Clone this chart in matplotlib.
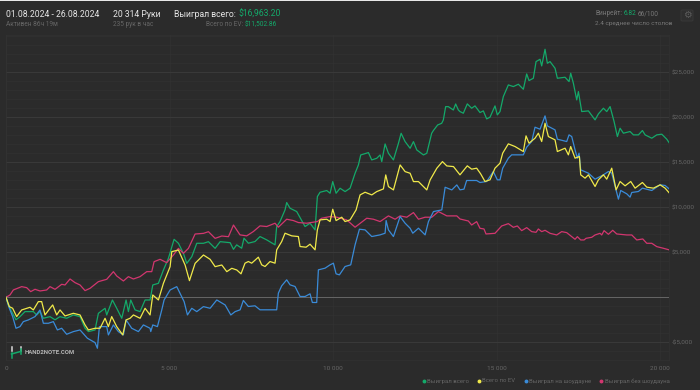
import matplotlib
matplotlib.use("Agg")
import matplotlib.pyplot as plt
from matplotlib.patches import Rectangle, FancyBboxPatch
from matplotlib.lines import Line2D

plt.rcParams['font.family'] = ['Roboto', 'DejaVu Sans']

green_x = [0,71,173,306,428,581,836,938,1040,1142,1346,1500,1650,1856,2060,2264,2417,2520,2723,2825,3030,3080,3254,3386,3540,3672,3743,3815,3947,4100,4253,4406,4488,4660,4814,4967,5140,5273,5426,5528,5681,5834,6038,6190,6395,6548,6854,6956,7054,7207,7278,7411,7615,7768,7972,8227,8278,8380,8533,8584,8686,8890,9145,9298,9451,9522,9604,9808,9910,9992,10094,10216,10369,10522,10675,10777,10848,11083,11185,11338,11440,11491,11593,11695,11848,12001,12083,12205,12358,12460,12562,12766,12868,13017,13068,13200,13323,13374,13445,13527,13680,13751,13833,13883,13985,14107,14240,14342,14495,14597,14699,14801,14954,15025,15107,15209,15362,15515,15668,15821,15923,15994,16127,16209,16331,16382,16484,16555,16637,16790,16861,17096,17218,17269,17351,17453,17504,17606,17810,18014,18116,18269,18371,18473,18595,18697,18779,18881,19085,19187,19340,19462,19544,19748,19901,20054,20207,20289]
green_y = [0,-850,-1590,-2500,-2150,-1590,-1590,-1960,-1590,-2330,-2150,-2500,-2150,-2330,-1960,-2150,-3440,-3810,-3630,-1780,-1220,-1960,-300,-1220,-2330,-300,-1590,-300,-1400,-1590,-300,-300,1370,1550,3030,4330,6440,6000,4880,3770,4510,6000,6000,6180,5440,6180,6070,5330,5825,5455,6565,6010,6195,6750,6380,5825,7860,8415,9710,10525,9895,9525,7860,8230,7490,11190,11670,11860,11560,12855,11560,12115,11745,12115,13780,14705,15815,16075,15260,15445,15815,15075,17035,16000,15260,17110,18220,17295,16555,17295,16370,15815,16000,18220,18516,19145,19330,19700,21180,21180,20810,21476,20810,20635,20450,21486,21005,21264,20524,20709,19821,20006,21264,20265,20635,22300,23595,23410,23669,23114,24816,24076,24335,26185,26444,25704,27554,26000,26185,25445,24335,24446,23965,24890,23780,21930,22855,20635,20709,19710,20376,21005,20635,21190,19525,17860,18785,18230,18415,18045,18045,18526,18045,17675,18045,18119,17564,17120]

ev_x = [0,102,204,326,479,734,836,989,1091,1193,1346,1428,1550,1652,1805,2060,2264,2417,2519,2723,2876,3029,3131,3233,3386,3570,3672,3794,3896,4100,4253,4406,4488,4661,4814,5018,5069,5273,5477,5610,5783,6038,6242,6395,6599,6752,6905,7058,7187,7309,7411,7513,7717,7819,7921,8074,8227,8278,8431,8533,8737,8941,8992,9176,9298,9451,9522,9604,9808,9910,9992,10094,10267,10369,10522,10706,10828,10981,11185,11338,11542,11613,11695,11848,12052,12205,12358,12460,12613,12868,12970,13174,13347,13480,13684,13883,14107,14240,14393,14515,14648,14801,14954,15107,15189,15362,15566,15821,15903,15994,16178,16280,16382,16484,16586,16790,16861,17096,17198,17269,17402,17535,17575,17708,17810,18014,18116,18269,18371,18524,18657,18779,18932,19105,19238,19462,19595,19799,20003,20156,20289]
ev_y = [0,-1036,-1221,-2146,-1406,-1110,-1406,-481,-481,-1961,-1221,-851,-1961,-1406,-2072,-1776,-1961,-3071,-3626,-3441,-3441,-2331,-3256,-2146,-3256,-4181,-2516,-2331,-1961,-2331,-1221,-1961,259,-296,1554,3404,5069,5254,3589,1850,3774,4699,4218,3404,3589,2849,3219,3034,2606,3790,3975,3790,4456,3605,3420,3975,3790,5270,6195,7120,6824,6750,5640,5566,5899,5270,7490,8600,8674,8415,9784,8526,8896,8415,8600,9710,11375,11671,11375,11745,12041,13595,12300,11930,14705,13965,13780,12855,12855,11930,13040,14335,15075,14594,14520,13605,14604,14234,14345,13716,12865,13050,14345,14900,16010,17046,16750,16195,17934,17120,17675,18230,17305,19340,17860,17490,16195,16565,15825,16750,15455,15640,13605,13235,13605,12310,13050,13605,13124,14345,11940,12865,12384,12865,12125,12754,12236,12125,12495,12125,11570]

sd_x = [0,102,204,306,428,530,683,887,1040,1142,1295,1448,1571,1703,1856,2060,2264,2489,2723,2795,2856,3080,3131,3284,3437,3590,3672,3845,4049,4202,4406,4427,4488,4631,4763,4835,5018,5222,5447,5549,5681,5834,6038,6242,6446,6701,6875,7007,7160,7258,7411,7615,7768,8278,8329,8431,8584,8686,8839,8992,9145,9298,9369,9502,9553,9757,9910,10012,10094,10196,10369,10542,10675,10808,10981,11185,11440,11593,11624,11695,11848,12052,12205,12358,12440,12613,12817,12919,13072,13327,13429,13633,13786,13883,14005,14087,14393,14495,14699,14903,15025,15107,15189,15362,15464,15821,15923,16076,16178,16331,16484,16555,16790,16861,17147,17218,17300,17402,17473,17524,17575,17810,18014,18269,18422,18524,18657,18728,18799,18983,19085,19136,19340,19462,19748,20003,20156,20289]
sd_y = [0,-1221,-2146,-3441,-3256,-2701,-2516,-2146,-1406,-2886,-2886,-2701,-3626,-3441,-4107,-3811,-3626,-4551,-5032,-5661,-3256,-3256,-4181,-3071,-3811,-4181,-2516,-3441,-3811,-3071,-3441,-3811,-3071,-3256,-1406,-296,814,1184,-481,-1961,-1221,-1591,-1036,-1221,-296,-851,-1961,-1591,-1390,-354,-1020,-946,-1390,-1390,460,1274,1940,1385,1200,90,90,386,-576,-576,3050,3235,3605,3790,2606,2495,3420,3605,5825,7564,7490,6750,6935,7120,8526,7490,6750,8970,8230,7675,7120,7675,6935,8415,9525,9710,12226,11930,12485,11940,12014,12976,12976,12754,12865,13975,13050,13050,14345,15455,15825,15825,16676,17305,18896,18674,20154,19044,18600,17564,17305,18045,17860,16380,15455,16010,14160,13790,13124,13605,13975,13790,11940,10904,11866,11496,11126,11644,11755,12125,11866,12495,12421,12014]

nsd_x = [0,122,224,479,632,755,887,1040,1244,1346,1500,1703,1805,1958,2111,2264,2417,2570,2825,3080,3284,3386,3590,3743,3896,4100,4304,4457,4529,4712,4916,5120,5273,5426,5579,5783,6038,6191,6395,6599,6803,6956,7156,7360,7564,7768,7972,8227,8329,8584,8788,8941,9196,9522,9655,9910,10114,10420,10675,11032,11236,11440,11695,11899,12052,12256,12460,12613,12817,13021,13225,13480,13786,13883,14138,14240,14393,14495,14617,14679,14954,15158,15362,15515,15637,15770,15923,16076,16209,16280,16382,16484,16637,16841,16994,17147,17300,17402,17473,17575,17677,17739,17912,18014,18167,18218,18289,18422,18554,18677,18983,19136,19289,19473,19595,19748,19901,20105,20289]
nsd_y = [0,259,814,1184,1073,629,888,703,814,1184,888,1443,1369,2035,1628,1369,740,999,1739,1998,2849,2368,1813,2294,2035,2294,2849,2849,3959,4218,3848,4699,5439,4884,5439,7030,7104,7289,6549,6808,6734,8029,6935,6824,7305,7934,7860,8230,7786,8674,8526,8304,8230,8415,8785,8970,8896,8600,7786,8785,8674,8415,9044,8674,9044,8896,9414,8674,8896,8896,9525,9044,9044,8700,8479,8035,8405,7665,7591,7036,7110,7924,8183,7776,7924,7406,7739,7295,7221,7591,7295,7443,7110,6925,7295,7184,6740,6444,6740,6370,6370,6555,6666,6925,7110,6925,7406,6999,7443,7036,6925,6925,6370,6481,6000,6000,5630,5445,5260]

x_ticks = [0, 5000, 10000, 15000, 20000]
x_tick_labels = ['0', '5 000', '10 000', '15 000', '20 000']
y_ticks = [-5000, 5000, 10000, 15000, 20000, 25000]
y_tick_labels = ['-$5,000', '$5,000', '$10,000', '$15,000', '$20,000', '$25,000']
legend_labels = ['Выиграл всего', 'Всего по EV', 'Выиграл на шоудауне', 'Выиграл без шоудауна']

BG = '#2b2b2b'
GREEN = '#14a96a'
YELLOW = '#f0e94a'
BLUE = '#3a8bd8'
RED = '#d2366f'
W, H = 700, 390

fig = plt.figure(figsize=(7, 3.9), dpi=100, facecolor=BG)
ax = fig.add_axes([6/W, 1-360/H, 663/W, 325/H], facecolor=BG)
ax.set_xlim(0, 20275)
ax.set_ylim(-6966, 29140)

for v in range(-6000, 30000, 1000):
    ax.axhline(v, color='#313131', lw=0.5, zorder=1)
for v in y_ticks:
    ax.axhline(v, color='#3a3a3a', lw=0.7, zorder=1.1)
for v in x_ticks:
    ax.axvline(v, color='#323232', lw=0.5, zorder=1)
ax.axhline(0, color='#666666', lw=0.7, zorder=1.5)

ax.plot(green_x, green_y, color=GREEN, lw=0.9, zorder=3)
ax.plot(nsd_x, nsd_y, color=RED, lw=0.9, zorder=3.1)
ax.plot(sd_x, sd_y, color=BLUE, lw=0.9, zorder=3.2)
ax.plot(ev_x, ev_y, color=YELLOW, lw=0.9, zorder=3.3)

for s in ax.spines.values():
    s.set_color('#323232')
    s.set_linewidth(0.5)
ax.tick_params(length=0)
ax.set_xticks(x_ticks)
ax.set_xticklabels(x_tick_labels, fontsize=4.6, color='#666666')
ax.tick_params(axis='x', pad=4)
ax.yaxis.tick_right()
ax.set_yticks(y_ticks)
ax.set_yticklabels(y_tick_labels, fontsize=4.6, color='#666666')
ax.tick_params(axis='y', pad=2)

fig.add_artist(Rectangle((0, 1-1.2/H), 1, 1.2/H, transform=fig.transFigure, color='#e8e8e8', lw=0))

def T(px, py, s, color, size, ha='left', weight='normal'):
    return fig.text(px/W, 1-py/H, s, color=color, fontsize=size, ha=ha, va='center', fontweight=weight)

def chain(px, py, parts, size):
    r = fig.canvas.get_renderer()
    for s, c in parts:
        t = T(px, py, s, c, size)
        px = t.get_window_extent(r).x1 + size*0.25*100/72

T(6.5, 14.5, '01.08.2024 - 26.08.2024', '#e6e6e6', 6.2)
T(6.5, 24.5, 'Активен 86ч 19м', '#666666', 4.7)
T(113, 14.5, '20 314 Руки', '#e6e6e6', 6.2)
T(113, 24.5, '235 рук в час', '#666666', 4.7)
chain(174, 14.5, [('Выиграл всего:', '#e6e6e6'), ('$16,963.20', GREEN)], 6.2)
chain(206, 24.5, [('Всего по EV:', '#666666'), ('$11,502.86', GREEN)], 4.7)
chain(595, 13.8, [('Винрейт:', '#777777'), ('6.82', GREEN), ('66/100', '#777777')], 4.7)
T(595, 23.3, '2.4 среднее число столов', '#777777', 4.6)

fig.add_artist(FancyBboxPatch((681/W, 1-21/H), 12/W, 11/H, boxstyle='round,pad=0,rounding_size=0.002',
                              transform=fig.transFigure, fc='#2f2f2f', ec='#3a3a3a', lw=0.6))
fig.text(687/W, 1-15.3/H, '⚙', color='#5c5c5c', fontsize=7, ha='center', va='center', family='DejaVu Sans')

logo = [([11.5, 11.5], [347, 351], '#d8d8d8'), ([20.5, 20.5], [347, 351], '#d8d8d8'),
        ([11.5, 11.5], [353, 358], GREEN), ([20.5, 20.5], [349, 354], GREEN),
        ([11.5, 20.5], [354, 351.5], GREEN)]
for xs, ys, c in logo:
    fig.add_artist(Line2D([a/W for a in xs], [1-b/H for b in ys], color=c, lw=1.1, transform=fig.transFigure))
T(25, 352.7, 'HAND2NOTE.COM', '#b5b5b5', 4.3, weight='bold')

for label, color, mx, tx in zip(legend_labels, [GREEN, YELLOW, BLUE, RED], [423.5, 479, 525.5, 601], [427, 482.5, 529, 605]):
    fig.add_artist(Line2D([mx/W], [1-381/H], marker='o', ms=1.8, color=color, lw=0, transform=fig.transFigure))
    T(tx, 381, label, '#666666', 4.35)

fig.savefig('out.png', dpi=100, facecolor=BG)
